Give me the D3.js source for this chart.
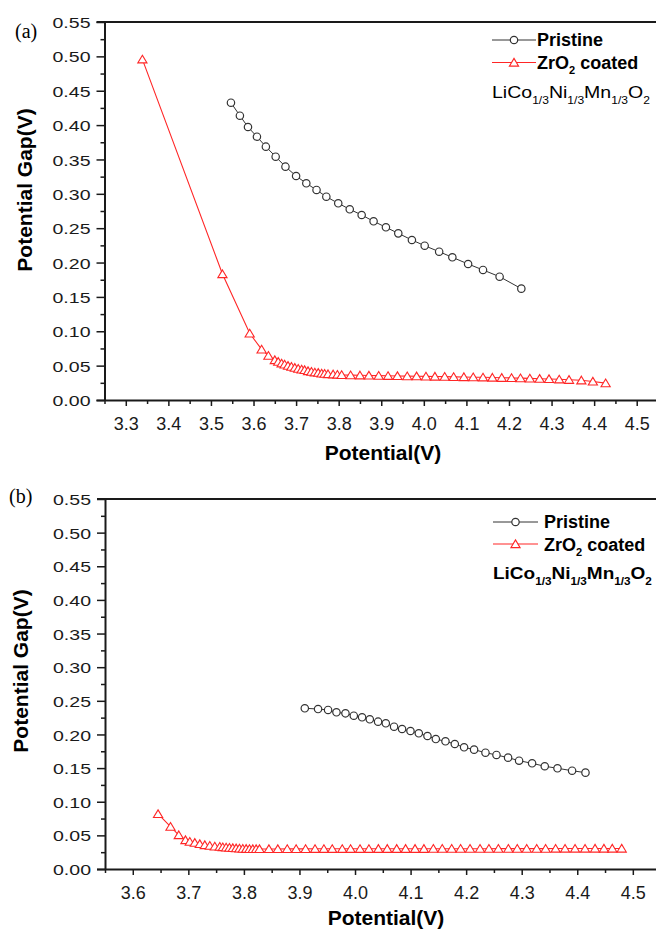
<!DOCTYPE html>
<html>
<head>
<meta charset="utf-8">
<script src="https://cdn.jsdelivr.net/npm/d3@7"></script>
<style>
  html, body { margin: 0; padding: 0; background: #fff; }
  svg { display: block; }
</style>
</head>
<body>
<script>
// ---------------- DATA ----------------
const yTicks = [0, 0.05, 0.10, 0.15, 0.20, 0.25, 0.30, 0.35, 0.40, 0.45, 0.50, 0.55];
const yMinorTicks = [0.025, 0.075, 0.125, 0.175, 0.225, 0.275, 0.325, 0.375, 0.425, 0.475, 0.525];
const xTicksA = [3.3, 3.4, 3.5, 3.6, 3.7, 3.8, 3.9, 4.0, 4.1, 4.2, 4.3, 4.4, 4.5];
const xMinorTicksA = [3.25, 3.35, 3.45, 3.55, 3.65, 3.75, 3.85, 3.95, 4.05, 4.15, 4.25, 4.35, 4.45, 4.55];
const xTicksB = [3.6, 3.7, 3.8, 3.9, 4.0, 4.1, 4.2, 4.3, 4.4, 4.5];
const xMinorTicksB = [3.55, 3.65, 3.75, 3.85, 3.95, 4.05, 4.15, 4.25, 4.35, 4.45, 4.55];

const seriesNames = ["Pristine", "ZrO2 coated"];

// Panel (a)
const aPristineV = [3.547, 3.568, 3.587, 3.608, 3.629, 3.652, 3.675, 3.700, 3.724, 3.748, 3.771, 3.799,
  3.826, 3.854, 3.882, 3.911, 3.940, 3.972, 4.002, 4.036, 4.067, 4.104, 4.139, 4.178, 4.229];
const aPristineGap = [0.4326, 0.4137, 0.3972, 0.3831, 0.3686, 0.3540, 0.3395, 0.3259, 0.3153, 0.3056, 0.2958, 0.2862,
  0.2775, 0.2692, 0.2600, 0.2513, 0.2425, 0.2328, 0.2245, 0.2158, 0.2076, 0.1979, 0.1892, 0.1794, 0.1620];

const aCoatedV = [3.339, 3.527, 3.591, 3.619, 3.635, 3.650, 3.658, 3.666, 3.673, 3.681, 3.689, 3.697, 3.705,
  3.713, 3.720, 3.728, 3.736, 3.744, 3.752, 3.760, 3.767, 3.775, 3.787, 3.797, 3.807, 3.828, 3.850, 3.871,
  3.894, 3.916, 3.938, 3.961, 3.983, 4.005, 4.026, 4.049, 4.070, 4.094, 4.116, 4.139, 4.161, 4.183, 4.206,
  4.227, 4.249, 4.272, 4.294, 4.318, 4.341, 4.370, 4.397, 4.427];
const aCoatedGap = [0.4957, 0.1833, 0.0970, 0.0737, 0.0645, 0.0582, 0.0557, 0.0534, 0.0518, 0.0499, 0.0485, 0.0470, 0.0456,
  0.0446, 0.0437, 0.0422, 0.0412, 0.0403, 0.0397, 0.0388, 0.0383, 0.0378, 0.0374, 0.0370, 0.0366, 0.0362, 0.0360, 0.0357,
  0.0355, 0.0352, 0.0350, 0.0348, 0.0346, 0.0344, 0.0342, 0.0340, 0.0337, 0.0335, 0.0332, 0.0330, 0.0327, 0.0324, 0.0321,
  0.0318, 0.0314, 0.0310, 0.0306, 0.0301, 0.0295, 0.0287, 0.0270, 0.0245];

// Panel (b)
const bPristineV = [3.9096, 3.9335, 3.9515, 3.9666, 3.9828, 3.9978, 4.0127, 4.0266, 4.0415, 4.0554, 4.0703, 4.0847,
  4.0998, 4.1148, 4.1304, 4.1454, 4.1628, 4.1796, 4.1963, 4.2143, 4.2348, 4.2546, 4.2755, 4.2953, 4.3187, 4.3415,
  4.3644, 4.3907, 4.4148];
const bPristineGap = [0.2389, 0.2378, 0.2364, 0.2329, 0.2314, 0.2279, 0.2255, 0.2225, 0.2190, 0.2166, 0.2115, 0.2081,
  0.2051, 0.2017, 0.1977, 0.1932, 0.1898, 0.1858, 0.1809, 0.1774, 0.1729, 0.1695, 0.1655, 0.1610, 0.1571, 0.1527,
  0.1497, 0.1461, 0.1432];

const bCoatedV = [3.6455, 3.6679, 3.6828, 3.6948, 3.7026, 3.7116, 3.7206, 3.7296, 3.7386, 3.7476, 3.7566, 3.762, 3.768,
  3.774, 3.780, 3.786, 3.792, 3.798, 3.804, 3.810, 3.816, 3.822, 3.828, 3.845, 3.861, 3.878, 3.894, 3.911, 3.928,
  3.944, 3.959, 3.977, 3.992, 4.009, 4.025, 4.042, 4.058, 4.075, 4.091, 4.108, 4.124, 4.141, 4.157, 4.174, 4.190,
  4.207, 4.225, 4.241, 4.258, 4.276, 4.292, 4.309, 4.327, 4.343, 4.361, 4.378, 4.396, 4.414, 4.432, 4.448, 4.463, 4.480];
const bCoatedGap = [0.0818, 0.0629, 0.0505, 0.0431, 0.0406, 0.0391, 0.0372, 0.0357, 0.0347, 0.0337, 0.0332, 0.0326, 0.0321,
  0.0317, 0.0313, 0.0309, 0.0306, 0.0303, 0.0301, 0.0299, 0.0298, 0.0298, 0.0298, 0.0298, 0.0298, 0.0299, 0.0299, 0.0299, 0.0300,
  0.0300, 0.0300, 0.0300, 0.0300, 0.0300, 0.0300, 0.0301, 0.0301, 0.0301, 0.0301, 0.0301, 0.0301, 0.0302, 0.0302, 0.0302, 0.0302,
  0.0302, 0.0302, 0.0302, 0.0303, 0.0303, 0.0303, 0.0303, 0.0303, 0.0303, 0.0304, 0.0304, 0.0304, 0.0304, 0.0305, 0.0305, 0.0305, 0.0305];

// ---------------- DRAWING ----------------
const W = 656, H = 931;
const SANS = "'Liberation Sans', Arial, Helvetica, sans-serif";
const SERIF = "'Liberation Serif', 'Times New Roman', serif";
const BLACK = "#1a1a1a";
const GRAY = "#333333";
const RED = "#ff2626";

const svg = d3.select("body").append("svg")
  .attr("width", W).attr("height", H)
  .attr("viewBox", `0 0 ${W} ${H}`);
svg.append("rect").attr("width", W).attr("height", H).attr("fill", "#fff");

const triPath = "M0,-4.1L4.6,3.6L-4.6,3.6Z";

function zip(xs, ys) { return xs.map((v, i) => ({ x: v, y: ys[i] })); }

function stretchText(sel, x, y, target) {
  const node = sel.node();
  const w = node.getComputedTextLength();
  const s = w > 0 ? target / w : 1;
  sel.attr("transform", `translate(${x},${y}) scale(${s},1)`);
}

function drawPanel(cfg) {
  const g = svg.append("g");
  const x = d3.scaleLinear().domain(cfg.xDomain).range(cfg.xRange);
  const y = d3.scaleLinear().domain([0, 0.55]).range([cfg.bottom, cfg.top]);
  const x0 = cfg.xRange[0];

  // top frame line
  g.append("line")
    .attr("x1", x0 - 8).attr("x2", W + 5)
    .attr("y1", cfg.top).attr("y2", cfg.top)
    .attr("stroke", BLACK).attr("stroke-width", 2);

  // Y minor ticks
  const yMinor = g.append("g").attr("transform", `translate(${x0},0)`)
    .call(d3.axisLeft(y).tickValues(yMinorTicks).tickSize(4).tickSizeOuter(0).tickFormat(""));
  yMinor.select(".domain").remove();
  yMinor.selectAll("line").attr("stroke", BLACK).attr("stroke-width", 1.5);

  // Y axis
  const yAx = g.append("g").attr("transform", `translate(${x0},0)`)
    .call(d3.axisLeft(y).tickValues(yTicks).tickSize(8).tickSizeOuter(0).tickPadding(6)
      .tickFormat(d3.format(".2f")));
  yAx.select(".domain").attr("stroke", BLACK).attr("stroke-width", 2);
  yAx.selectAll(".tick line").attr("stroke", BLACK).attr("stroke-width", 1.5);
  yAx.selectAll("text")
    .attr("font-family", SANS).attr("font-size", 15.5).attr("fill", BLACK)
    .attr("textLength", 38).attr("lengthAdjust", "spacingAndGlyphs")
    .attr("dy", "0.36em");

  // X minor ticks
  const xMinor = g.append("g").attr("transform", `translate(0,${cfg.bottom})`)
    .call(d3.axisBottom(x).tickValues(cfg.xMinor).tickSize(4).tickSizeOuter(0).tickFormat(""));
  xMinor.select(".domain").remove();
  xMinor.selectAll("line").attr("stroke", BLACK).attr("stroke-width", 1.5);

  // X axis
  const xAx = g.append("g").attr("transform", `translate(0,${cfg.bottom})`)
    .call(d3.axisBottom(x).tickValues(cfg.xTicks).tickSize(6).tickSizeOuter(0).tickPadding(11)
      .tickFormat(d3.format(".1f")));
  xAx.select(".domain").attr("stroke", BLACK).attr("stroke-width", 2)
    .attr("d", `M${x0 - 8},0.5H${W + 5}`);
  xAx.selectAll(".tick line").attr("stroke", BLACK).attr("stroke-width", 1.5);
  xAx.selectAll("text").attr("font-family", SANS).attr("font-size", 18).attr("fill", BLACK);

  // Axis titles
  g.append("text")
    .attr("x", cfg.xTitleX).attr("y", cfg.xTitleY)
    .attr("text-anchor", "middle")
    .attr("font-family", SANS).attr("font-weight", "bold").attr("font-size", 21)
    .attr("fill", "#000").text("Potential(V)");
  g.append("text")
    .attr("transform", `translate(${cfg.yTitleX},${cfg.yTitleY}) rotate(-90)`)
    .attr("text-anchor", "middle")
    .attr("font-family", SANS).attr("font-weight", "bold").attr("font-size", 21)
    .attr("fill", "#000").text("Potential Gap(V)");

  // Panel label
  g.append("text")
    .attr("x", cfg.tagX).attr("y", cfg.tagY)
    .attr("font-family", SERIF).attr("font-size", 20).attr("fill", "#000")
    .text(cfg.tag);

  // Data
  const pr = zip(cfg.pV, cfg.pG);
  const co = zip(cfg.cV, cfg.cG);
  const lineLin = d3.line().x(d => x(d.x)).y(d => y(d.y));

  g.append("path").datum(co).attr("d", lineLin)
    .attr("fill", "none").attr("stroke", RED).attr("stroke-width", 1.1);
  g.append("g").selectAll("path").data(co).join("path")
    .attr("d", triPath)
    .attr("transform", d => `translate(${x(d.x)},${y(d.y)})`)
    .attr("fill", "#fff").attr("stroke", RED).attr("stroke-width", 1.1);

  g.append("path").datum(pr).attr("d", lineLin)
    .attr("fill", "none").attr("stroke", GRAY).attr("stroke-width", 1);
  g.append("g").selectAll("circle").data(pr).join("circle")
    .attr("cx", d => x(d.x)).attr("cy", d => y(d.y)).attr("r", 3.7)
    .attr("fill", "#fff").attr("stroke", GRAY).attr("stroke-width", 1.2);

  // Legend
  const L = cfg.legend;
  const lg = g.append("g");
  lg.append("line").attr("x1", L.x1).attr("x2", L.x2).attr("y1", L.y1).attr("y2", L.y1)
    .attr("stroke", GRAY).attr("stroke-width", 1);
  lg.append("circle").attr("cx", (L.x1 + L.x2) / 2).attr("cy", L.y1).attr("r", 3.7)
    .attr("fill", "#fff").attr("stroke", GRAY).attr("stroke-width", 1.2);
  lg.append("text").attr("x", L.tx).attr("y", L.y1 + 6)
    .attr("font-family", SANS).attr("font-weight", "bold").attr("font-size", 18).attr("fill", "#000")
    .text(seriesNames[0]);
  lg.append("line").attr("x1", L.x1).attr("x2", L.x2).attr("y1", L.y2).attr("y2", L.y2)
    .attr("stroke", RED).attr("stroke-width", 1.1);
  lg.append("path").attr("d", triPath)
    .attr("transform", `translate(${(L.x1 + L.x2) / 2},${L.y2})`)
    .attr("fill", "#fff").attr("stroke", RED).attr("stroke-width", 1.1);
  const ct = lg.append("text").attr("x", L.tx).attr("y", L.y2 + 6.5)
    .attr("font-family", SANS).attr("font-weight", "bold").attr("font-size", 18).attr("fill", "#000");
  ct.append("tspan").text("ZrO");
  ct.append("tspan").attr("font-size", 11).attr("dy", 5).text("2");
  ct.append("tspan").attr("dy", -5).text(" coated");

  const ft = lg.append("text").attr("x", 0).attr("y", 0)
    .attr("font-family", SANS).attr("font-weight", L.fBold ? "bold" : "normal")
    .attr("font-size", 17).attr("fill", "#000");
  const parts = [["LiCo", false], ["1/3", true], ["Ni", false], ["1/3", true], ["Mn", false], ["1/3", true], ["O", false], ["2", true]];
  let sub = false;
  parts.forEach(([t, s]) => {
    const ts = ft.append("tspan").text(t);
    if (s && !sub) { ts.attr("dy", 6).attr("font-size", 10.5); sub = true; }
    else if (s) { ts.attr("font-size", 10.5); }
    else if (!s && sub) { ts.attr("dy", -6); sub = false; }
  });
  stretchText(ft, L.fx, L.fy, L.fw);
}

drawPanel({
  xDomain: [3.25, 4.55], xRange: [104.5, 658],
  top: 22, bottom: 400,
  xTicks: xTicksA, xMinor: xMinorTicksA,
  xTitleX: 383, xTitleY: 460,
  yTitleX: 32, yTitleY: 190,
  tag: "(a)", tagX: 15, tagY: 38,
  pV: aPristineV, pG: aPristineGap, cV: aCoatedV, cG: aCoatedGap,
  legend: { x1: 492, x2: 536, y1: 40, y2: 62.5, tx: 537, fx: 492, fy: 98, fw: 158, fBold: false }
});

drawPanel({
  xDomain: [3.55, 4.55], xRange: [105, 660.6],
  top: 499, bottom: 869,
  xTicks: xTicksB, xMinor: xMinorTicksB,
  xTitleX: 386, xTitleY: 925,
  yTitleX: 28, yTitleY: 671,
  tag: "(b)", tagX: 9, tagY: 503,
  pV: bPristineV, pG: bPristineGap, cV: bCoatedV, cG: bCoatedGap,
  legend: { x1: 493, x2: 538, y1: 522, y2: 544, tx: 544, fx: 493, fy: 579, fw: 159, fBold: true }
});
</script>
</body>
</html>
